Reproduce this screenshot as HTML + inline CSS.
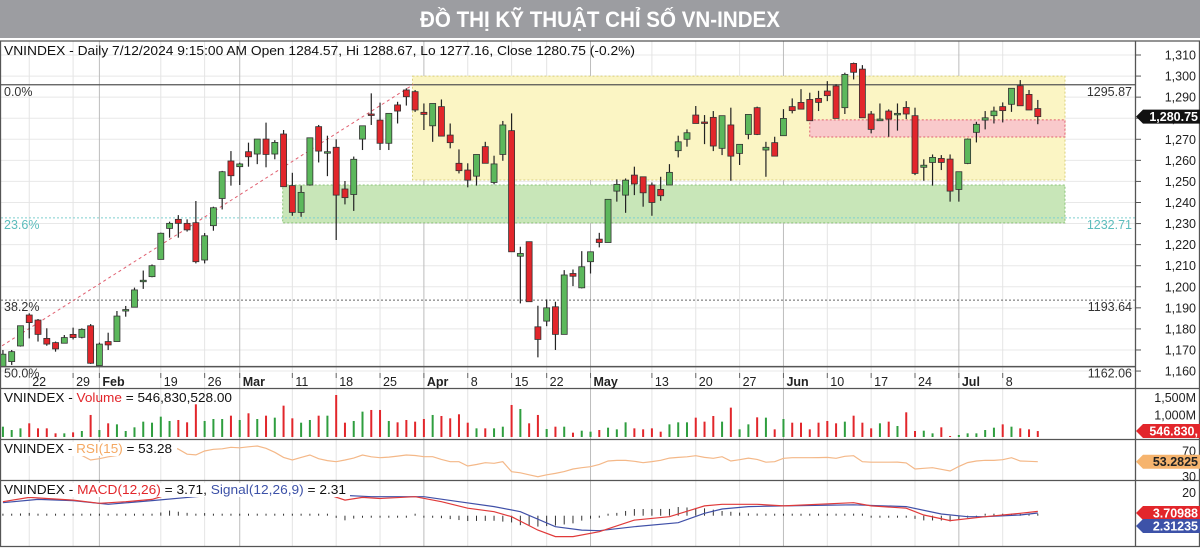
<!DOCTYPE html>
<html><head><meta charset="utf-8">
<style>
html,body{margin:0;padding:0;background:#fff;}
svg{display:block;font-family:"Liberation Sans",Arial,sans-serif;}
</style></head>
<body>
<svg id="chart" width="1200" height="548" viewBox="0 0 1200 548" xmlns="http://www.w3.org/2000/svg">
<defs>
<clipPath id="plotClip"><rect x="1" y="41" width="1134" height="325"/></clipPath>
<clipPath id="volClip"><rect x="1" y="389" width="1134" height="48"/></clipPath>
</defs>
<rect x="0" y="0" width="1200" height="38" fill="#9c9da1"/>
<text x="600" y="27" text-anchor="middle" font-size="22" font-weight="bold" fill="#fff" textLength="360" lengthAdjust="spacingAndGlyphs">ĐỒ THỊ KỸ THUẬT CHỈ SỐ VN-INDEX</text>
<g id="grid"></g>
<g id="zones" clip-path="url(#plotClip)"></g>
<g id="levels"></g>
<g id="candles" clip-path="url(#plotClip)"></g>
<g id="vol" clip-path="url(#volClip)"></g>
<g id="rsi"></g>
<g id="macd"></g>
<g id="frame"></g>
<g id="axes"></g>
<g id="titles"></g>
</svg>
<script>
const opens=[1162,1164.5,1171.9,1186.6,1184.2,1175.5,1173.5,1173.2,1177.4,1176,1181.5,1162.6,1174,1174,1189,1190.3,1202.9,1204.8,1213,1227.7,1232,1230.1,1230.4,1212.7,1229,1241.9,1259.7,1257,1264.1,1263,1270.1,1263,1272.5,1248,1235.3,1248.3,1276,1263.8,1266.2,1246.4,1243.8,1270.1,1282,1279.1,1268.1,1286.3,1293.4,1292.6,1282.8,1276.4,1285.5,1272,1258.6,1255.4,1252.5,1266.5,1249.5,1262.8,1274.1,1214.5,1221.4,1181,1183.7,1190.5,1177.4,1206.3,1199.5,1211.9,1222.6,1221,1245.4,1243.5,1253,1252.2,1248.3,1246.2,1248.3,1264.6,1270,1281.5,1278.2,1280.4,1265.7,1276.8,1263.3,1272.3,1285,1264.9,1268.4,1271.7,1285.5,1287.5,1288.9,1289.4,1292.9,1295.3,1285,1306,1303.3,1282,1278.8,1283.4,1282,1285.1,1281.2,1256.7,1259,1260.9,1260.6,1246.2,1258.5,1273.3,1279.1,1281.2,1285.5,1286.6,1295.4,1291.3,1284.57];
const highs=[1170,1170,1181.5,1187.4,1184.7,1180.3,1174,1177.1,1180.6,1180.3,1182.3,1173.5,1178.2,1188.5,1190.9,1199.6,1207.7,1210.6,1225.7,1230.9,1234,1232,1240.7,1225.5,1238,1255,1264.4,1258.9,1268.4,1270.1,1277.9,1269.6,1274.4,1254.1,1248,1270.7,1276.8,1271.7,1270,1250.2,1261.8,1276.4,1291.8,1287.4,1282.3,1287.8,1294.2,1293.4,1287,1287,1288.9,1277.5,1265.2,1258.6,1262.8,1268.8,1262.2,1278.7,1282.3,1219,1221.4,1191,1194,1192.9,1207.9,1208.2,1216.9,1216.6,1225.6,1241.5,1251,1251.4,1257,1252.2,1249.5,1252.2,1258.2,1271.7,1274.7,1285.8,1281.5,1283.4,1281.2,1285,1267.6,1281.8,1285.5,1268.8,1271.2,1284.3,1289.4,1293.8,1292.1,1293,1297.6,1296.1,1301.6,1306.4,1305.2,1283.4,1287,1284.2,1287,1288.1,1285,1260.5,1262.8,1262.5,1262.8,1254.6,1270.4,1278.3,1283.4,1285.5,1287.5,1294.2,1298.1,1293.4,1288.67];
const lows=[1161,1162.9,1171.6,1175.5,1174,1172,1169.2,1173.2,1175,1175.5,1163.4,1162.6,1170,1174,1185.8,1190.3,1199,1204.5,1213,1223.3,1223.3,1226.2,1211.1,1211.1,1226.6,1236.7,1248,1248.3,1257,1258.2,1256.7,1260.5,1247.5,1233.7,1233.2,1248,1259,1252.5,1222.2,1239.1,1236,1264.9,1276.8,1264.9,1264.9,1277.5,1286,1283,1274.4,1268.8,1271.5,1265.7,1253.8,1247.2,1248,1258.6,1248.6,1259.8,1216.6,1192.1,1192.9,1166.5,1181.3,1170,1177.4,1200.3,1199.2,1206.3,1218.7,1221,1240.4,1235.1,1243.5,1238,1233.7,1240.8,1248.3,1261.4,1266.5,1277.5,1267.7,1264.4,1262.5,1250.3,1257.8,1270,1272,1252.2,1262,1271.7,1282.3,1284.3,1278.8,1283.4,1288.1,1279.9,1282,1298.4,1280.2,1272.8,1278.8,1271.2,1274.1,1279.6,1253,1250.3,1248,1255.4,1240.4,1240.4,1258.2,1268.5,1274.7,1277.5,1278,1283,1285.9,1283.9,1277.16];
const closes=[1168,1169.2,1181.5,1183,1177.4,1172.8,1170.5,1175.9,1175.9,1179.8,1163.7,1172.8,1172.4,1186.1,1189.2,1198.5,1203.1,1210,1225.4,1230.1,1230.1,1227,1211.9,1224.2,1237.5,1254.6,1252.7,1258.3,1261.7,1270.1,1262.8,1268.5,1247.5,1235.3,1244.8,1270.7,1264.4,1264.1,1243.5,1242.3,1260.5,1276.4,1281.6,1268.1,1282.3,1283.4,1290.2,1283.9,1281.8,1287,1271.5,1268.4,1255.1,1250.6,1262.8,1258.6,1258.3,1276.8,1216.6,1215.8,1192.9,1175,1190,1177.4,1205.6,1205,1209.5,1216.6,1221,1241.5,1248.6,1250.6,1248.8,1244.6,1240,1243.2,1254.3,1268.8,1273.1,1277.5,1277.9,1266.8,1281.2,1262,1267.6,1281.8,1272.3,1266.2,1262,1279.9,1283.6,1284.3,1278.8,1287.5,1290.7,1279.9,1300.8,1301.8,1280.2,1274.7,1279.6,1279.6,1282.3,1282,1253.8,1257.7,1261.4,1259,1245.4,1254.6,1270.1,1277.1,1280.2,1283.4,1283.6,1294.2,1285.9,1283.9,1280.75];
const volumes=[670,576,623,765,623,623,482,482,510,548,1001,576,765,736,548,652,812,783,953,831,859,793,1302,831,887,887,981,859,1048,887,981,925,1264,906,783,859,981,981,1565,783,831,1095,1142,1142,831,793,859,812,887,1001,972,906,1020,783,623,623,623,670,1283,1170,765,1001,604,670,670,501,557,529,576,642,595,793,623,595,623,529,736,793,793,925,812,972,812,1208,595,736,934,925,595,887,783,783,595,783,831,765,812,981,783,623,765,812,689,1076,548,557,482,652,407,435,482,482,576,642,736,670,623,595,546.83];
const rsiStart=5;
const rsiValues=[64.8,65,65.5,66,63,56,58,61,63,64.8,66,68,72,75,77,73,65,64,70,72.6,73.5,75.7,75,76.5,77.8,74.2,68,60,56,60,63.8,58,55,53.4,56,59,63.8,61,59.6,60.5,62,63.8,63,61.2,61.2,57,53.4,53.4,46.7,49,51.8,50.8,53.4,37.8,36,33,30,33,35.2,38,42,44,45.6,49.2,54.4,55.4,55.4,54,51.8,53.5,55.5,59,60.1,61,62.7,60,58.6,61.2,54.4,56.5,59,57,52.5,53.4,58.6,59.6,59.6,59.6,59.8,60.1,58.6,61.7,62.7,53.4,52.5,52.5,52.5,52.8,51.5,42,43,44,41.5,38.9,46,52,54.4,55.5,55.4,56.5,59.6,54.4,54,53.28];
const macdIdx=[0,3,5,8,11,14,17,19,22,23,25,28,32,34,37,39,41,43,47,50,53,56,58,61,63,65,68,72,76,80,82,86,89,97,99,103,105,108,112,116,118];
const macdValues=[12.2,15.9,15,13.6,10.8,12.2,14.2,18.9,18,19.4,19.5,19.5,19,18.9,18.6,13.6,15.9,15,16.5,12.2,6.5,3.5,-0.9,-12.5,-18.2,-18.2,-13.9,-3.8,-0.9,8.5,9.9,9.9,8.5,11.3,8.5,6.5,0.6,-4.3,-0.9,2.1,3.71];
const signalIdx=[0,4,8,12,17,22,26,38,42,48,52,56,59,63,66,68,72,77,80,82,85,89,97,103,107,110,112,116,118];
const signalValues=[11.3,14.2,13.1,9.9,13.1,16.5,18.9,18,16.5,16.5,12.2,7.9,3.5,-9.6,-12.5,-13,-9.6,-6.1,2.1,5.8,7.9,8.5,9.5,7.9,1.5,-0.9,-0.9,0.6,2.31];
const priceTicks=[1310,1300,1290,1280,1270,1260,1250,1240,1230,1220,1210,1200,1190,1180,1170,1160];
const dateLabelIdx=[3,8,11,18,23,27,33,38,43,48,53,58,62,67,74,79,84,89,94,99,104,109,114];
const dateLabels=['22','29','Feb','19','26','Mar','11','18','25','Apr','8','15','22','May','13','20','27','Jun','10','17','24','Jul','8'];
const fibPrices=[1295.87,1232.71,1193.64,1162.06];
const fibNames=['0.0%','23.6%','38.2%','50.0%'];
const trendIdx=[-0.1,46.8];
const trendPrice=[1172,1296];
const yellowZone=[46.7,121.1,1300,1250.7];
const greenZone=[31.9,121.1,1248.3,1230.3];
const pinkZone=[92,121.1,1279.2,1271.1];

const NS='http://www.w3.org/2000/svg';
const X=i=>2.93+8.77*i;
const Y=p=>55+(1310-p)*2.107;
const VY=v=>450.4-v*0.0354;
const RY=r=>451+(70-r)*0.6425;
const MY=m=>515.7-m*1.15;
function el(tag,attrs,parent){const e=document.createElementNS(NS,tag);for(const k in attrs)e.setAttribute(k,attrs[k]);document.getElementById(parent).appendChild(e);return e;}
function interp(idx,vals,i){if(i<=idx[0])return vals[0];for(let k=1;k<idx.length;k++){if(i<=idx[k]){const t=(i-idx[k-1])/(idx[k]-idx[k-1]);return vals[k-1]+t*(vals[k]-vals[k-1]);}}return vals[vals.length-1];}
const fmt=n=>n.toLocaleString('en-US');

// grid
priceTicks.forEach(p=>{const g=el('line',{x1:1,x2:1135,y1:Y(p),y2:Y(p),stroke:'#e8e8e8','stroke-width':1},'grid');

});
dateLabelIdx.forEach((i,k)=>{const m=/[A-Za-z]/.test(dateLabels[k]);
const g=el('line',{x1:X(i),x2:X(i),y1:41,y2:546,stroke:m?'#bdbdbd':'#e4e4e4','stroke-width':1},'grid');

});

// zones
[[yellowZone,'#fbf5c4','#d9cf7a','resistance-zone'],[greenZone,'#c8e6b8','#8cc47a','support-zone'],[pinkZone,'#f9c9cb','#e06070','pivot-zone']].forEach(z=>{
const d=z[0];const r=el('rect',{x:X(d[0]),y:Y(d[2]),width:X(d[1])-X(d[0]),height:Y(d[3])-Y(d[2]),fill:z[1],stroke:z[2],'stroke-dasharray':'2,2','stroke-width':1},'zones');

});

// fib levels
const fibStyle=[{c:'#555',d:'',w:1.3,t:'#333'},{c:'#7fcfcf',d:'2,2',w:1,t:'#5bbcbc'},{c:'#666',d:'2,2',w:1,t:'#333'},{c:'#555',d:'',w:1.3,t:'#333'}];
fibPrices.forEach((p,k)=>{const s=fibStyle[k];const y=Y(p);
const l=el('line',{x1:1,x2:1135,y1:y,y2:y,stroke:s.c,'stroke-width':s.w,'stroke-dasharray':s.d},'levels');


const t1=el('text',{x:4,y:y+11,'font-size':12.5,fill:s.t},'levels');t1.textContent=fibNames[k];


const t2=el('text',{x:1132,y:y+11,'font-size':12.5,fill:s.t,'text-anchor':'end'},'levels');t2.textContent=p.toFixed(2);

});
const tl=el('line',{x1:X(trendIdx[0]),y1:Y(trendPrice[0]),x2:X(trendIdx[1]),y2:Y(trendPrice[1]),stroke:'#e06070','stroke-width':1,'stroke-dasharray':'3,3'},'levels');



// candles
closes.forEach((c,i)=>{const o=opens[i];const up=c>=o;const x=X(i);
const w=el('line',{x1:x,x2:x,y1:Y(highs[i]),y2:Y(lows[i]),stroke:'#222','stroke-width':1.2},'candles');


const top=Y(Math.max(o,c)),bot=Y(Math.min(o,c));
const b=el('rect',{x:x-3,y:top,width:6,height:Math.max(1.5,bot-top),fill:up?'#5cb85c':'#e2262b',stroke:'#333','stroke-width':0.8},'candles');

});

// volume
volumes.forEach((v,i)=>{const up=closes[i]>=opens[i];const y=VY(v);
const r=el('rect',{x:X(i)-1,y:y,width:2,height:Math.max(0,437-y),fill:up?'#2f9e3f':'#e2262b'},'vol');

});

// rsi
let pts=rsiValues.map((r,j)=>X(rsiStart+j).toFixed(1)+','+RY(r).toFixed(1)).join(' ');
const rl=el('polyline',{points:pts,fill:'none',stroke:'#f4b888','stroke-width':1.2},'rsi');



// macd histogram
for(let i=0;i<closes.length;i++){const h=interp(macdIdx,macdValues,i)-interp(signalIdx,signalValues,i);
let y2=MY(h);const y0=MY(0);if(Math.abs(y2-y0)<2)y2=y0+(h>=0?-2:2);
const hb=el('line',{x1:X(i),x2:X(i),y1:y0,y2:y2,stroke:'#333','stroke-width':1},'macd');

}
const sl=el('polyline',{points:signalIdx.map((i,k)=>X(i).toFixed(1)+','+MY(signalValues[k]).toFixed(1)).join(' '),fill:'none',stroke:'#4050a8','stroke-width':1.2},'macd');


const ml=el('polyline',{points:macdIdx.map((i,k)=>X(i).toFixed(1)+','+MY(macdValues[k]).toFixed(1)).join(' '),fill:'none',stroke:'#e03a3a','stroke-width':1.2},'macd');



// frame
[[0,41,1200,41],[0,366.5,1135,366.5],[0,388.5,1200,388.5],[0,439.5,1200,439.5],[0,480.5,1200,480.5],[0,546.5,1200,546.5],[0.5,41,0.5,547],[1199.5,41,1199.5,547],[1135.5,41,1135.5,547]].forEach(a=>{
const l=el('line',{x1:a[0],y1:a[1],x2:a[2],y2:a[3],stroke:'#555','stroke-width':1.3},'frame');

});

// axes
priceTicks.forEach(p=>{const y=Y(p);
const tk=el('line',{x1:1136,x2:1141,y1:y,y2:y,stroke:'#555'},'axes');


const t=el('text',{x:1196,y:y+4.5,'font-size':12.5,fill:'#222','text-anchor':'end'},'axes');t.textContent=fmt(p);

});
dateLabelIdx.forEach((i,k)=>{const m=/[A-Za-z]/.test(dateLabels[k]);
const tk=el('line',{x1:X(i),x2:X(i),y1:373,y2:378,stroke:'#666'},'axes');


const t=el('text',{x:X(i)+3,y:386,'font-size':12.5,'font-weight':m?'bold':'normal',fill:'#222'},'axes');t.textContent=dateLabels[k];

});
function tag(y,txt,bg,fg,name){const g=el('path',{d:`M1136,${y} L1143,${y-7} L1200,${y-7} L1200,${y+7} L1143,${y+7} Z`,fill:bg},'axes');


const t=el('text',{x:1198,y:y+4.5,'font-size':12.5,'font-weight':'bold',fill:fg,'text-anchor':'end'},'axes');t.textContent=txt;

}
tag(Y(closes[closes.length-1]),'1,280.75','#111','#fff','last-price');
[[1500,'1,500M'],[1000,'1,000M']].forEach(a=>{const t=el('text',{x:1196,y:VY(a[0])+4.5,'font-size':12.5,fill:'#222','text-anchor':'end'},'axes');t.textContent=a[1];

});
tag(431,'546.830,','#e2262b','#fff','last-volume');
[70,30].forEach(r=>{const t=el('text',{x:1196,y:RY(r)+4.5,'font-size':12.5,fill:'#222','text-anchor':'end'},'axes');t.textContent=r;

});
tag(RY(53.2825),'53.2825','#f6b46e','#222','last-rsi');
{const t=el('text',{x:1196,y:MY(20)+4.5,'font-size':12.5,fill:'#222','text-anchor':'end'},'axes');t.textContent='20';

}
tag(513,'3.70988','#e2262b','#fff','last-macd');
tag(526,'2.31235','#3d52a8','#fff','last-signal');

// titles
function title(y,parts,len,name,bgw){
if(bgw){const r=el('rect',{x:2,y:y-11,width:bgw,height:14,fill:'#fff'},'titles');

}
const t=el('text',{x:4,y:y,'font-size':13,textLength:len,lengthAdjust:'spacingAndGlyphs'},'titles');


parts.forEach(p=>{const s=document.createElementNS(NS,'tspan');s.setAttribute('fill',p[1]);s.textContent=p[0];t.appendChild(s);});}
title(55,[['VNINDEX - Daily 7/12/2024 9:15:00 AM Open 1284.57, Hi 1288.67, Lo 1277.16, Close 1280.75 (-0.2%)','#111']],631,'price-header',0);
title(402,[['VNINDEX - ','#111'],['Volume','#e2262b'],[' = 546,830,528.00','#111']],228,'volume-title',0);
title(453,[['VNINDEX - ','#111'],['RSI(15)','#f4a862'],[' = 53.28','#111']],168,'rsi-title',175);
title(494,[['VNINDEX - ','#111'],['MACD(12,26)','#e2262b'],[' = 3.71, ','#111'],['Signal(12,26,9)','#3d52a8'],[' = 2.31','#111']],342,'macd-title',348);
</script>
</body></html>
